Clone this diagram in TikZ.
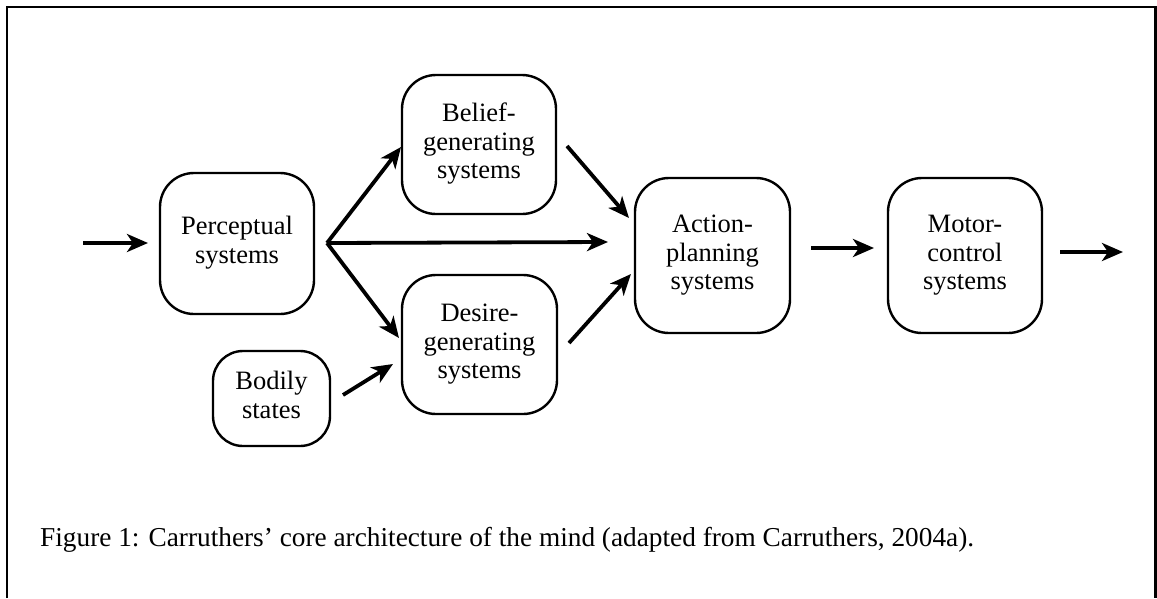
\documentclass[tikz,border=0pt]{standalone}
\usepackage{fontspec}
\setmainfont{Liberation Serif}
\usetikzlibrary{arrows.meta}
\newcommand{\btext}[2]{\raisebox{#1}{\begin{tabular}{@{}c@{}}#2\end{tabular}}}
\begin{document}
\begin{tikzpicture}[x=1pt,y=-1pt,
  sysbox/.style={draw=black,line width=2.4pt,rounded corners=34pt,align=center,
    inner sep=0pt,font=\fontsize{26.5}{28.5}\selectfont},
  flow/.style={line width=3.8pt,-{Stealth[length=21pt,width=18pt,inset=6pt]}},
  frameline/.style={line width=2.6pt}]
\useasboundingbox (0,0) rectangle (1157,598);
\draw[frameline] (7,598) -- (7,7) -- (1155.5,7) -- (1155.5,598);

\node[sysbox,minimum width=154pt,minimum height=141pt] (perc) at (237,243.5) {\btext{3pt}{Perceptual\\systems}};
\node[sysbox,minimum width=154pt,minimum height=139pt] (belief) at (479,144.5) {\btext{9pt}{Belief-\\generating\\systems}};
\node[sysbox,minimum width=155pt,minimum height=139pt] (desire) at (479.5,344.5) {\btext{9pt}{Desire-\\generating\\systems}};
\node[sysbox,minimum width=155pt,minimum height=155pt] (action) at (712.5,255.5) {\btext{7pt}{Action-\\planning\\systems}};
\node[sysbox,minimum width=154pt,minimum height=155pt] (motor) at (965,255.5) {\btext{6pt}{Motor-\\control\\systems}};
\node[sysbox,rounded corners=30pt,minimum width=117pt,minimum height=95pt] (bodily) at (271.5,398.5) {\btext{3pt}{Bodily\\states}};

\coordinate (in0) at (83,243);
\coordinate (in1) at (148,243);
\coordinate (split) at (327,243);
\coordinate (b1) at (401,147);
\coordinate (d1) at (399,338);
\coordinate (a1) at (608,242);
\coordinate (ba0) at (567,146);
\coordinate (ba1) at (629,218);
\coordinate (da0) at (569,343);
\coordinate (da1) at (631,274);
\coordinate (bd0) at (343,395);
\coordinate (bd1) at (393,364);
\coordinate (am0) at (811,248);
\coordinate (am1) at (874,248);
\coordinate (out0) at (1060,252);
\coordinate (out1) at (1123,252);

\draw[flow] (in0) -- (in1);
\draw[flow] (split) -- (b1);
\draw[flow] (split) -- (a1);
\draw[flow] (split) -- (d1);
\draw[flow] (ba0) -- (ba1);
\draw[flow] (da0) -- (da1);
\draw[flow] (bd0) -- (bd1);
\draw[flow] (am0) -- (am1);
\draw[flow] (out0) -- (out1);

\node[anchor=base west,inner sep=0pt,font=\fontsize{27.3}{29}\selectfont] (cap) at (40,546)
  {Figure 1: Carruthers’ core architecture of the mind (adapted from Carruthers, 2004a).};
\end{tikzpicture}
\end{document}
